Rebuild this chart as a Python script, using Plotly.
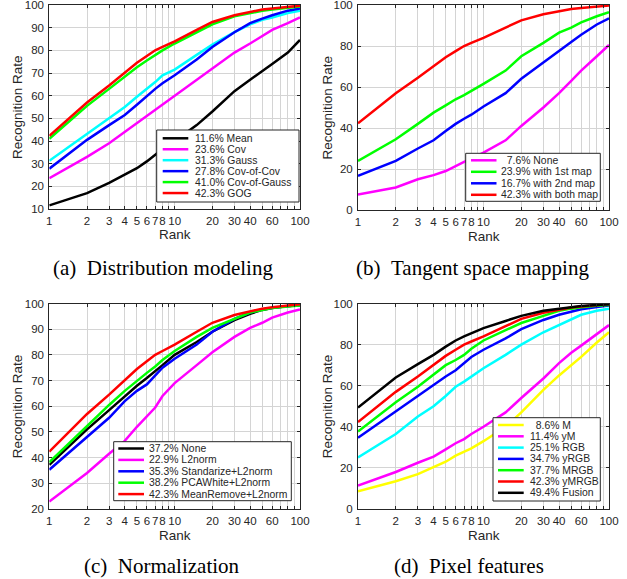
import plotly.graph_objects as go

W, H = 627, 579

ranks = [1, 2, 3, 4, 5, 6, 7, 8, 10, 15, 20, 30, 40, 50, 60, 80, 100]

# (a) Distribution modeling
a_mean = [11.6, 17, 21.5, 25, 28, 31, 34, 36.5, 40, 47, 53, 62, 67, 71, 74, 79, 84.6]
a_cov = [23.6, 33, 39, 44, 48, 51, 54, 56, 60, 67, 72, 79, 83, 86.5, 89, 92, 94.5]
a_gauss = [31.3, 43, 50, 55, 59.5, 63, 66, 69, 71.5, 78, 82.5, 88, 91.5, 93.5, 94.5, 96.5, 97.5]
a_covcov = [27.8, 40.5, 47, 51.5, 56, 60, 63, 65.5, 69, 76, 81.5, 88, 92, 94, 95.5, 97.5, 98.5]
a_covgauss = [41.0, 55.5, 63, 68.5, 72.5, 75.5, 78, 80, 83, 88, 91.5, 95, 96.5, 97.5, 98, 98.8, 99.3]
gog = [42.3, 57, 64.5, 70, 74.5, 77.5, 80, 81.5, 84, 89, 92.5, 95.5, 97, 98, 98.5, 99.3, 99.7]
labels_a = ["11.6% Mean", "23.6% Cov", "31.3% Gauss", "27.8% Cov-of-Cov",
            "41.0% Cov-of-Gauss", "42.3% GOG"]

# (b) Tangent space mapping
b_none = [7.6, 11, 15, 17, 19, 21.5, 23.5, 25, 28, 34, 41, 50, 57, 63, 68, 75, 80.5]
b_first = [23.9, 34.5, 42, 47.5, 51, 54, 56, 58, 61.5, 68, 75, 81.5, 86.5, 89, 91.5, 94.5, 96.5]
b_second = [16.7, 24, 30, 34, 38.5, 42, 44.5, 46.5, 50.5, 57, 64, 72, 78, 82, 85.5, 90.5, 93.5]
labels_b = ["\u00a0\u00a07.6% None", "23.9% with 1st map", "16.7% with 2nd map",
            "42.3% with both map"]

# (c) Normalization
c_none = [37.2, 51, 58.5, 64, 68, 71, 73.5, 76, 80, 85, 89, 93.5, 96, 97.5, 98.2, 99, 99.3]
c_l2 = [22.9, 34, 41.5, 46.5, 52, 56, 59.5, 64, 69, 76, 81, 87, 90.5, 92.5, 94.5, 96.5, 97.7]
c_std = [35.3, 48, 55.5, 62, 66, 68.5, 72, 75, 78.5, 84, 89, 94, 96.5, 97.7, 98.3, 99, 99.4]
c_pca = [38.2, 52.5, 60.5, 66, 70, 73, 75.5, 78, 81.5, 87, 90.5, 94, 96.5, 97.5, 98.2, 98.8, 99.2]
labels_c = ["37.2% None", "22.9% L2norm", "35.3% Standarize+L2norm",
            "38.2% PCAWhite+L2norm", "42.3% MeanRemove+L2norm"]

# (d) Pixel features
d_m = [8.6, 13.5, 17, 20.5, 23, 26, 28, 29.5, 33, 40, 47, 58, 65, 70, 74, 81, 86]
d_ym = [11.4, 18, 22.5, 25.5, 29, 32, 34, 36.5, 40, 47, 54, 63.5, 71, 76, 79.5, 85, 89.5]
d_rgb = [25.1, 36.5, 45, 50, 55, 59.5, 62, 64.5, 68.5, 75, 80, 86, 89.5, 92.5, 94.5, 96.5, 97.5]
d_yrgb = [34.7, 47.5, 55, 60.5, 64.5, 67.5, 71, 74, 77.5, 83, 87.5, 92, 94.5, 96, 97.2, 98.3, 99]
d_mrgb = [37.7, 52, 59.5, 65.5, 70, 72.5, 75, 78, 82, 87, 90.5, 94, 96.5, 97.5, 98.2, 98.9, 99.3]
d_fusion = [49.4, 64, 70.5, 75, 79, 82, 84, 85.5, 88, 91.5, 94, 96.5, 97.5, 98.3, 98.8, 99.3, 99.6]
labels_d = ["\u00a0\u00a08.6% M", "11.4% yM", "25.1% RGB", "34.7% yRGB",
            "37.7% MRGB", "42.3% yMRGB", "49.4% Fusion"]

xtick_vals = [1, 2, 3, 4, 5, 6, 7, 8, 9, 10, 20, 30, 40, 50, 60, 70, 80, 90, 100]
xtick_text = ["1", "2", "3", "4", "5", "6", "7", "8", "", "10", "20", "30", "40",
              "", "60", "", "", "", "100"]

captions = ["(a)\u2002Distribution modeling", "(b)\u2002Tangent space mapping",
            "(c)\u2002Normalization", "(d)\u2002Pixel features"]

K, M, C, B, G, R, Y = "#000000", "#ff00ff", "#00ffff", "#0000ff", "#00ff00", "#ff0000", "#ffff00"

panels = [
    dict(series=[a_mean, a_cov, a_gauss, a_covcov, a_covgauss, gog], labels=labels_a,
         colors=[K, M, C, B, G, R], yrange=[10, 100], dtick=10,
         box=(49.3, 300, 5, 209),
         leg=dict(x0=156.7, x1=299, y0=130, y1=202, first=138.3, step=10.95,
                  l0=162.7, l1=188.3, t=192.5),
         ytitle_x=17, cap=(163, 268)),
    dict(series=[b_none, b_first, b_second, gog], labels=labels_b,
         colors=[M, G, B, R], yrange=[0, 100], dtick=20,
         box=(358, 609, 5, 210),
         leg=dict(x0=465.7, x1=600.3, y0=153.3, y1=201.3, first=160.3, step=11.5,
                  l0=471, l1=496.5, t=499),
         ytitle_x=327, cap=(472.5, 268)),
    dict(series=[c_none, c_l2, c_std, c_pca, gog], labels=labels_c,
         colors=[K, M, B, G, R], yrange=[20, 100], dtick=10,
         box=(49.3, 300, 303.5, 509),
         leg=dict(x0=113.7, x1=291.3, y0=441.7, y1=500.7, first=448.5, step=11.4,
                  l0=118.3, l1=144, t=147),
         ytitle_x=17, cap=(162, 566)),
    dict(series=[d_m, d_ym, d_rgb, d_yrgb, d_mrgb, gog, d_fusion], labels=labels_d,
         colors=[Y, M, C, B, G, R, K], yrange=[0, 100], dtick=20,
         box=(358, 609, 303.5, 509),
         leg=dict(x0=493, x1=600.3, y0=417.7, y1=501, first=425, step=11.3,
                  l0=498, l1=523.7, t=527.5),
         ytitle_x=327, cap=(469, 566)),
]

def px(x):
    return x / W

def py(y):
    return 1 - y / H

AX = "#262626"
GRID = "#d4d4d4"
SANS = "Liberation Sans, Arial, sans-serif"
SERIF = "Liberation Serif, Times New Roman, serif"

fig = go.Figure()
shapes = []
annotations = []
layout = {}

for i, p in enumerate(panels, start=1):
    sfx = "" if i == 1 else str(i)
    xa, ya = "x" + sfx, "y" + sfx
    x0, x1, y0, y1 = p["box"]
    for vals, lab, col in zip(p["series"], p["labels"], p["colors"]):
        fig.add_trace(go.Scatter(x=ranks, y=vals, mode="lines", name=lab,
                                 line=dict(color=col, width=2.5),
                                 xaxis=xa, yaxis=ya, showlegend=False,
                                 hoverinfo="x+y+name"))
    layout["xaxis" + sfx] = dict(
        type="log", range=[0, 2], domain=[px(x0), px(x1)], anchor=ya,
        tickmode="array", tickvals=xtick_vals, ticktext=xtick_text, tickangle=0,
        showgrid=True, gridcolor=GRID, gridwidth=1, automargin=False,
        showline=True, linecolor=AX, linewidth=1, mirror="ticks",
        ticks="inside", ticklen=3, tickcolor=AX, zeroline=False,
        tickfont=dict(family=SANS, size=11.5, color=AX), ticklabelstandoff=1,
        ticklabeloverflow="allow",
    )
    layout["yaxis" + sfx] = dict(
        range=p["yrange"], dtick=p["dtick"], domain=[py(y1), py(y0)], anchor=xa,
        showgrid=True, gridcolor=GRID, gridwidth=1, automargin=False,
        showline=True, linecolor=AX, linewidth=1, mirror="ticks",
        ticks="inside", ticklen=3, tickcolor=AX, zeroline=False,
        tickfont=dict(family=SANS, size=11.5, color=AX), ticklabelstandoff=2,
        ticklabeloverflow="allow",
    )
    # axis titles
    annotations.append(dict(text="Rank", x=px((x0 + x1) / 2), y=py(y1 + 26),
                            xref="paper", yref="paper", showarrow=False,
                            xanchor="center", yanchor="middle",
                            font=dict(family=SANS, size=13.5, color=AX)))
    annotations.append(dict(text="Recognition Rate", x=px(p["ytitle_x"]),
                            y=py((y0 + y1) / 2), xref="paper", yref="paper",
                            showarrow=False, textangle=-90,
                            xanchor="center", yanchor="middle",
                            font=dict(family=SANS, size=13.5, color=AX)))
    # caption
    cx, cy = p["cap"]
    annotations.append(dict(text=captions[i - 1], x=px(cx), y=py(cy),
                            xref="paper", yref="paper", showarrow=False,
                            xanchor="center", yanchor="middle",
                            font=dict(family=SERIF, size=21, color="#000000")))
    # legend box
    L = p["leg"]
    shapes.append(dict(type="rect", xref="paper", yref="paper",
                       x0=px(L["x0"]), x1=px(L["x1"]), y0=py(L["y1"]), y1=py(L["y0"]),
                       fillcolor="white", line=dict(color=AX, width=1), layer="above"))
    for k, (lab, col) in enumerate(zip(p["labels"], p["colors"])):
        yy = L["first"] + k * L["step"]
        shapes.append(dict(type="line", xref="paper", yref="paper",
                           x0=px(L["l0"]), x1=px(L["l1"]), y0=py(yy), y1=py(yy),
                           line=dict(color=col, width=2.5), layer="above"))
        annotations.append(dict(text=lab, x=px(L["t"]), y=py(yy),
                                xref="paper", yref="paper", showarrow=False,
                                xanchor="left", yanchor="middle",
                                font=dict(family=SANS, size=10.4, color=AX)))

fig.update_layout(
    template="none",
    width=W, height=H, margin=dict(l=0, r=0, t=0, b=0, autoexpand=False),
    paper_bgcolor="white", plot_bgcolor="white",
    shapes=shapes, annotations=annotations, showlegend=False,
    **layout,
)

fig.write_html("out.html",
               config={"displayModeBar": False},
               post_script="document.body.style.margin='0';"
                           "document.body.style.overflow='hidden';")
